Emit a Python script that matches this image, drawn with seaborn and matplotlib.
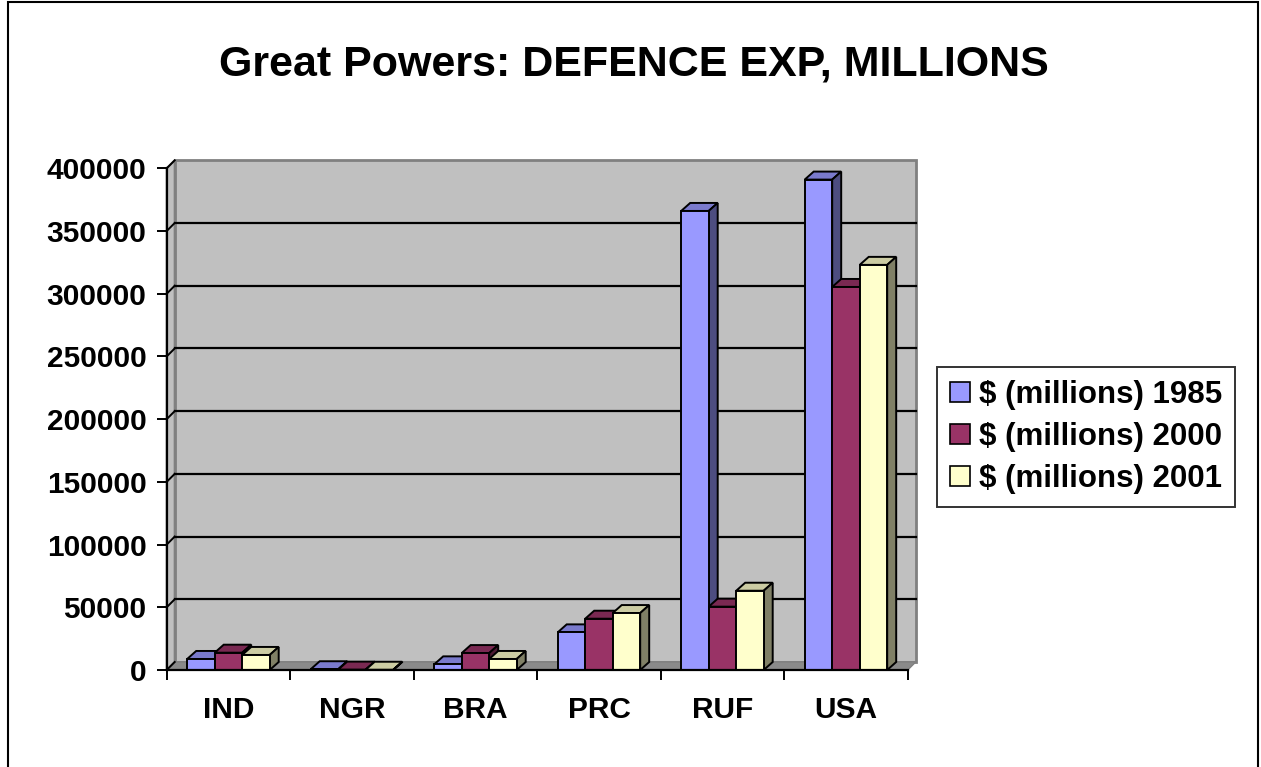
import numpy as np
import pandas as pd
import matplotlib
matplotlib.use("Agg")
import matplotlib.pyplot as plt
import seaborn as sns
from matplotlib.patches import Polygon, Rectangle, Patch
from matplotlib.lines import Line2D

# ---- data -------------------------------------------------------------
countries = ["IND", "NGR", "BRA", "PRC", "RUF", "USA"]
spend_1985 = [8800, 600, 4500, 30000, 366000, 391000]
spend_2000 = [13800, 300, 13500, 40900, 50500, 305400]
spend_2001 = [12000, 200, 8800, 45400, 63200, 323000]
series_labels = ["$ (millions) 1985", "$ (millions) 2000", "$ (millions) 2001"]
y_ticks = [0, 50000, 100000, 150000, 200000, 250000, 300000, 350000, 400000]

# ---- style ------------------------------------------------------------
face_colors = ["#9999FF", "#993366", "#FFFFCC"]
FONT = ["Liberation Sans", "DejaVu Sans"]
plt.rcParams["font.family"] = FONT
plt.rcParams["font.weight"] = "bold"
TICK_SIZE = 21.5
LEGEND_SIZE = 22.5
TITLE_SIZE = 31

W, H = 1261, 767
fig = plt.figure(figsize=(W / 100, H / 100), dpi=100)
ax_left, ax_right, ax_bottom, ax_top = 166.7, 907.7, 670.0, 168.3
ax = fig.add_axes([ax_left / W, (H - ax_bottom) / H,
                   (ax_right - ax_left) / W, (ax_bottom - ax_top) / H])

df = pd.DataFrame({
    "country": countries * 3,
    "series": np.repeat(series_labels, len(countries)),
    "value": spend_1985 + spend_2000 + spend_2001,
})

sns.barplot(data=df, x="country", y="value", hue="series",
            order=countries, hue_order=series_labels,
            palette=face_colors, saturation=1, width=0.668,
            edgecolor="black", linewidth=1.4, errorbar=None,
            legend=False, ax=ax)
bars = list(ax.patches)

ymax = y_ticks[-1]
ax.set_xlim(-0.5, len(countries) - 0.5)
ax.set_ylim(0, ymax)

# depth offset of the pseudo-3D projection, in data units
px_x = (len(countries)) / (ax_right - ax_left)
px_y = ymax / (ax_bottom - ax_top)
wdx, wdy = 8 * px_x, 8 * px_y       # walls
bdx, bdy = 9 * px_x, 8 * px_y       # bar tops / sides

x0, x1 = -0.5, len(countries) - 0.5
wall_gray = "#C0C0C0"
edge_gray = "#808080"

# back wall
ax.add_patch(Rectangle((x0 + wdx, wdy), x1 - x0, ymax, facecolor=wall_gray,
                       edgecolor=edge_gray, linewidth=2, zorder=0.5,
                       clip_on=False))
# side wall
ax.add_patch(Polygon([(x0, 0), (x0 + wdx, wdy), (x0 + wdx, ymax + wdy),
                      (x0, ymax)], closed=True, facecolor=wall_gray,
                     edgecolor=edge_gray, linewidth=1.5, zorder=0.55,
                     clip_on=False))
# floor
ax.add_patch(Polygon([(x0, 0), (x1, 0), (x1 + wdx, wdy), (x0 + wdx, wdy)],
                     closed=True, facecolor="#8A8A8A", edgecolor=edge_gray,
                     linewidth=1, zorder=0.6, clip_on=False))
# gridlines on the back wall with their short diagonals from the axis
for v in y_ticks[1:-1]:
    ax.add_line(Line2D([x0 + wdx, x1 + wdx], [v + wdy, v + wdy],
                       color="black", linewidth=1.6, zorder=0.7,
                       clip_on=False))
for v in y_ticks:
    ax.add_line(Line2D([x0, x0 + wdx], [v, v + wdy], color="black",
                       linewidth=1.4, zorder=0.7, clip_on=False))

# tops and sides of the columns
rgb = [np.array(matplotlib.colors.to_rgb(c)) for c in face_colors]
for bar in bars:
    fc = np.array(bar.get_facecolor()[:3])
    h_idx = int(np.argmin([np.abs(fc - c).sum() for c in rgb]))
    x, w, h = bar.get_x(), bar.get_width(), bar.get_height()
    base_z = 3 + h_idx * 3
    bar.set_zorder(base_z + 2)
    top = Polygon([(x, h), (x + w, h), (x + w + bdx, h + bdy), (x + bdx, h + bdy)],
                  closed=True, facecolor=rgb[h_idx] * 0.8, edgecolor="black",
                  linewidth=1.4, zorder=base_z + 1, clip_on=False)
    side = Polygon([(x + w, 0), (x + w + bdx, bdy), (x + w + bdx, h + bdy),
                    (x + w, h)], closed=True, facecolor=rgb[h_idx] * 0.5,
                   edgecolor="black", linewidth=1.4, zorder=base_z + 1,
                   clip_on=False)
    ax.add_patch(top)
    ax.add_patch(side)

# ---- axes -------------------------------------------------------------
ax.set_facecolor("white")
for s in ["top", "right"]:
    ax.spines[s].set_visible(False)
for s in ["left", "bottom"]:
    ax.spines[s].set_linewidth(1.6)
    ax.spines[s].set_color("black")
    ax.spines[s].set_zorder(20)
ax.set_xlabel("")
ax.set_ylabel("")

ax.set_yticks(y_ticks)
ax.set_yticklabels([str(v) for v in y_ticks], fontsize=TICK_SIZE,
                   fontweight="bold")
ax.tick_params(axis="y", length=7.5, width=1.4, pad=7)

ax.set_xticks(range(len(countries)))
ax.set_xticklabels(countries, fontsize=TICK_SIZE, fontweight="bold")
ax.set_xticks(np.arange(-0.5, len(countries)), minor=True)
ax.tick_params(axis="x", which="major", length=0, pad=19)
ax.tick_params(axis="x", which="minor", length=7.5, width=1.4)

# ---- title, legend, frame ---------------------------------------------
fig.text(634 / W, 1 - 65 / H, "Great Powers: DEFENCE EXP, MILLIONS",
         ha="center", va="center", fontsize=TITLE_SIZE, fontweight="bold")

handles = [Patch(facecolor=c, edgecolor="black", linewidth=1.2)
           for c in face_colors]
leg = fig.legend(handles, series_labels, loc="upper left",
                 bbox_to_anchor=(937 / W, 1 - 367 / H),
                 frameon=True, fancybox=False, edgecolor="black",
                 prop={"size": LEGEND_SIZE, "weight": "bold", "family": FONT},
                 handlelength=0.62, handleheight=0.62, handletextpad=0.3,
                 labelspacing=0.38, borderpad=0.42, borderaxespad=0)
leg.get_frame().set_linewidth(1.4)

fig.add_artist(Rectangle((8 / W, -0.02), (1258 - 8) / W, 1.02 - 1.5 / H,
                         transform=fig.transFigure, fill=False,
                         edgecolor="black", linewidth=1.5))

fig.savefig("out.png", dpi=100, facecolor="white")
